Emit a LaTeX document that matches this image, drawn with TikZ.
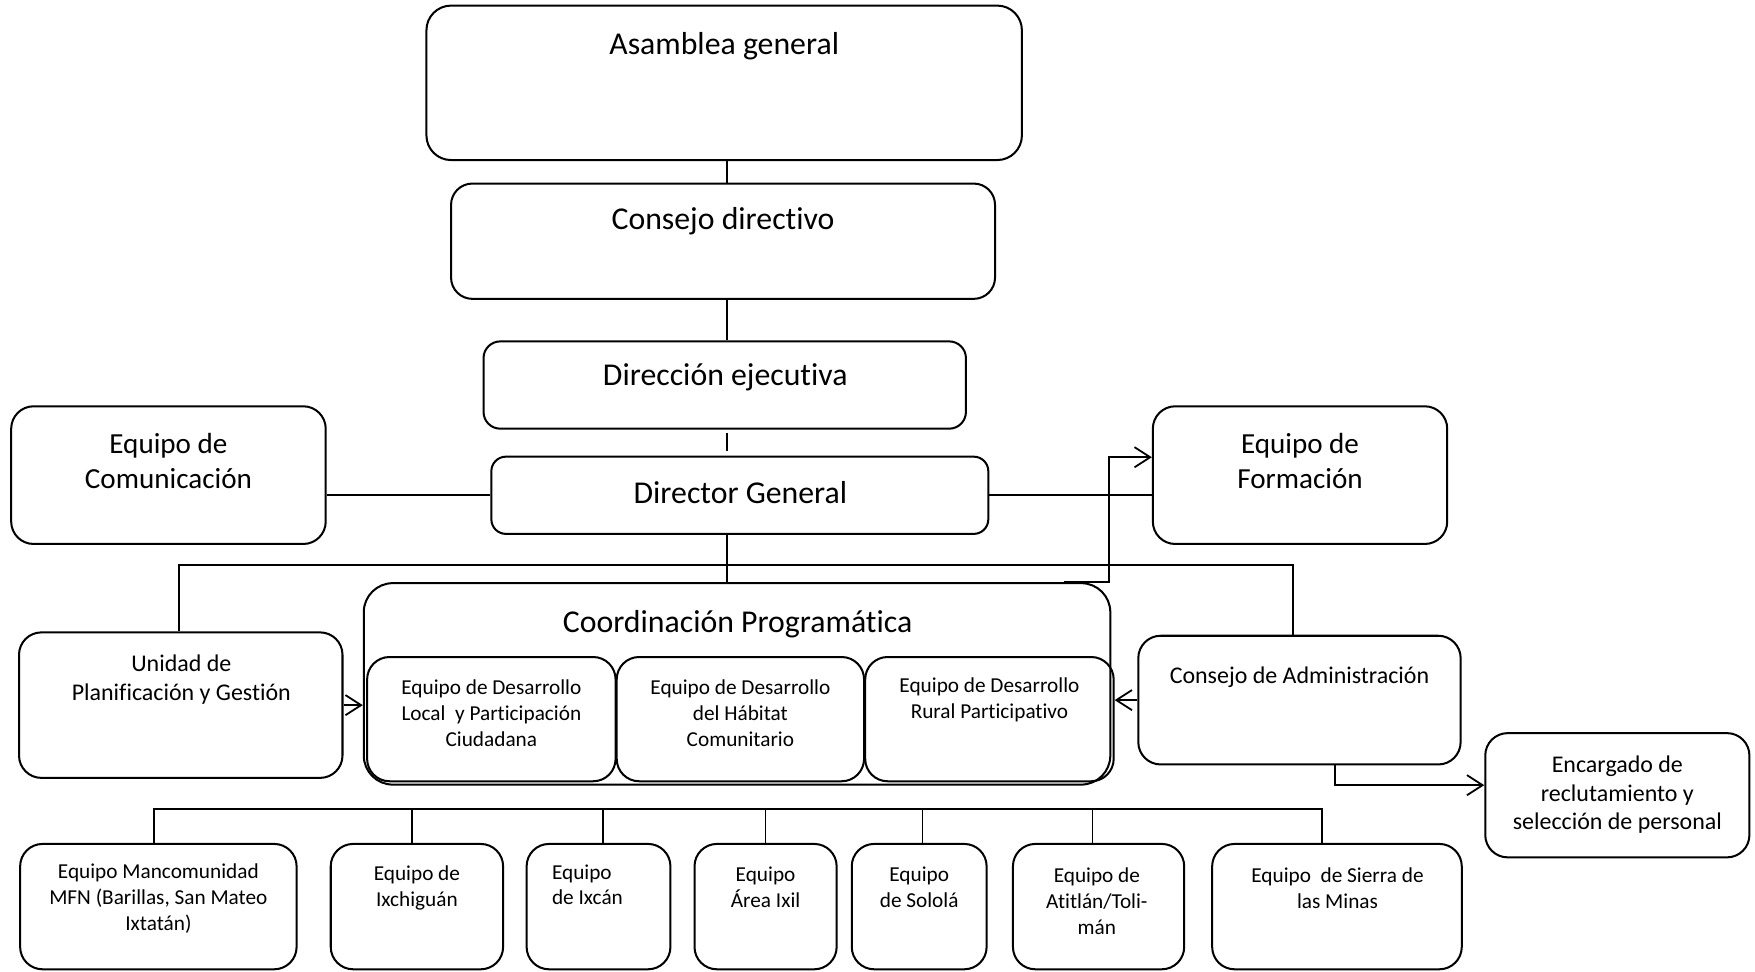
\documentclass[tikz,border=0pt]{standalone}
\usepackage{fontspec}
\setmainfont{Carlito}[Ligatures=NoCommon]
\usetikzlibrary{arrows.meta}

\tikzset{
	box/.style={draw, line width=1.8pt, rounded corners=20pt, inner sep=0pt},
	big/.style={font=\fontsize{28.4}{34}\selectfont, inner sep=0pt, align=center},
	eqp/.style={font=\fontsize{26}{31.3}\selectfont, inner sep=0pt, align=center},
	mid/.style={font=\fontsize{21.4}{25.7}\selectfont, inner sep=0pt, align=center},
	sml/.style={font=\fontsize{19}{23}\selectfont, inner sep=0pt, align=center},
	link/.style={line width=1.6pt},
	arr/.style={line width=1.6pt, -{Straight Barb[length=14pt,width=18pt]}}
}

\begin{document}
\begin{tikzpicture}[x=1pt, y=-1pt]
			\useasboundingbox (0,0) rectangle (1568,868);
			\coordinate (spine) at (649.5,0);
			\coordinate (topbus) at (0,505);
			\coordinate (lowbus) at (0,722.5);

			\node[box, rounded corners=22pt, minimum width=532pt, minimum height=138pt] (asam) at (647,74) {};
			\node[box, rounded corners=19pt, minimum width=486pt, minimum height=103pt] (consejo) at (646,215.5) {};
			\node[box, rounded corners=15pt, minimum width=431pt, minimum height=78pt] (direjec) at (647.5,344) {};
			\node[box, rounded corners=13pt, minimum width=444pt, minimum height=69pt] (dirgen) at (661,442.5) {};
			\node[box, minimum width=281pt, minimum height=123pt] (comunic) at (150.5,424.5) {};
			\node[box, minimum width=263pt, minimum height=123pt] (formac) at (1161.5,424.5) {};
			\node[box, rounded corners=26pt, minimum width=667pt, minimum height=180pt] (coord) at (658.5,611) {};
			\node[box, minimum width=222pt, minimum height=111pt] (inA) at (439,642.5) {};
			\node[box, minimum width=221pt, minimum height=111pt] (inB) at (661.5,642.5) {};
			\node[box, minimum width=222pt, minimum height=111pt] (inC) at (884,642.5) {};
			\node[box, minimum width=289pt, minimum height=130pt] (unidad) at (161.5,630) {};
			\node[box, minimum width=288pt, minimum height=115pt] (consadm) at (1161,625.5) {};
			\node[box, minimum width=236pt, minimum height=111pt] (encarg) at (1445,710.5) {};
			\node[box, minimum width=247pt, minimum height=112pt] (manc) at (141.5,810) {};
			\node[box, minimum width=154pt, minimum height=112pt] (ixchi) at (372.5,810) {};
			\node[box, minimum width=128.5pt, minimum height=112pt] (ixcan) at (534.75,810) {};
			\node[box, minimum width=127pt, minimum height=112pt] (ixil) at (684,810) {};
			\node[box, minimum width=120.5pt, minimum height=112pt] (solola) at (821.25,810) {};
			\node[box, minimum width=153pt, minimum height=112pt] (atitlan) at (981.5,810) {};
			\node[box, minimum width=223pt, minimum height=112pt] (sierra) at (1194.5,810) {};

			\node[big] (asamtxt) at (647,41) {Asamblea general};
			\node[big] (consejotxt) at (646,198) {Consejo directivo};
			\node[big] (direjectxt) at (648,337) {Dirección ejecutiva};
			\node[big] (dirgentxt) at (661.5,440) {Director General};
			\node[eqp] (comunictxt) at (150.5,411.5) {Equipo de\\Comunicación};
			\node[eqp] (formactxt) at (1161.5,411.5) {Equipo de\\Formación};
			\node[big] (coordtxt) at (659,558) {Coordinación Programática};
			\node[sml] (inAtxt) at (439,637) {Equipo de Desarrollo\\Local~ y Participación\\Ciudadana};
			\node[sml] (inBtxt) at (661.5,637) {Equipo de Desarrollo\\del Hábitat\\Comunitario};
			\node[sml] (inCtxt) at (884,625.5) {Equipo de Desarrollo\\Rural Participativo};
			\node[mid] (unidadtxt) at (162,607.5) {Unidad de\\Planificación y Gestión};
			\node[mid] (consadmtxt) at (1161,605) {Consejo de Administración};
			\node[mid] (encargtxt) at (1445,710) {Encargado de\\reclutamiento y\\selección de personal};
			\node[sml] (manctxt) at (141.5,803) {Equipo Mancomunidad\\MFN (Barillas, San Mateo\\Ixtatán)};
			\node[sml] (ixchitxt) at (372.5,793.5) {Equipo de\\Ixchiguán};
			\node[sml, align=left, anchor=west] (ixcantxt) at (493,790.5) {Equipo\\de Ixcán};
			\node[sml] (ixiltxt) at (684,793) {Equipo\\Área Ixil};
			\node[sml] (sololatxt) at (821.25,793) {Equipo\\de Sololá};
			\node[sml] (atitlantxt) at (980,805) {Equipo de\\Atitlán/Toli-\\mán};
			\node[sml] (sierratxt) at (1195,793.5) {Equipo~ de Sierra de\\las Minas};

			\draw[link] (asam.south -| spine) -- (consejo.north -| spine);
			\draw[link] (consejo.south -| spine) -- (direjec.north -| spine);
			\draw[link, shorten <=3pt, shorten >=4pt] (direjec.south -| spine) -- (dirgen.north -| spine);
			\draw[link] (dirgen.south -| spine) -- (coord.north -| spine);
			\draw[link] (dirgen.west) -- (dirgen.west -| comunic.east);
			\draw[link] (dirgen.east) -- (dirgen.east -| formac.west);
			\draw[arr] ([xshift=-42pt]coord.north east) -- ([xshift=-2pt]coord.north east) |- ([yshift=16pt]formac.west);

			\coordinate (unitop) at ([xshift=-1.5pt]unidad.north);
			\coordinate (admtop) at ([xshift=-6pt]consadm.north);
			\draw[link] (unitop) |- (admtop |- topbus) -- (admtop);
			\draw[arr] (unidad.east) -- (unidad.east -| coord.west);
			\draw[arr] (consadm.west) -- (consadm.west -| inC.east);
			\coordinate (admfoot) at ([xshift=32pt]consadm.south);
			\draw[arr] (admfoot) |- ([yshift=9pt]encarg.west);

			\coordinate (mancdrop) at ([xshift=-4pt]manc.north);
			\coordinate (ixchidrop) at ([xshift=-4.5pt]ixchi.north);
			\coordinate (ixcandrop) at ([xshift=4pt]ixcan.north);
			\coordinate (ixildrop) at (ixil.north);
			\coordinate (sololadrop) at ([xshift=3pt]solola.north);
			\coordinate (atitlandrop) at ([xshift=-5.5pt]atitlan.north);
			\coordinate (sierradrop) at ([xshift=-13.5pt]sierra.north);
			\draw[link] (mancdrop) |- (sierradrop |- lowbus) -- (sierradrop);
			\draw[link] (ixchidrop) -- (ixchidrop |- lowbus);
			\draw[link] (ixcandrop) -- (ixcandrop |- lowbus);
			\draw[link] (ixildrop) -- (ixildrop |- lowbus);
			\draw[link] (sololadrop) -- (sololadrop |- lowbus);
			\draw[link] (atitlandrop) -- (atitlandrop |- lowbus);
		\end{tikzpicture}
\end{document}
